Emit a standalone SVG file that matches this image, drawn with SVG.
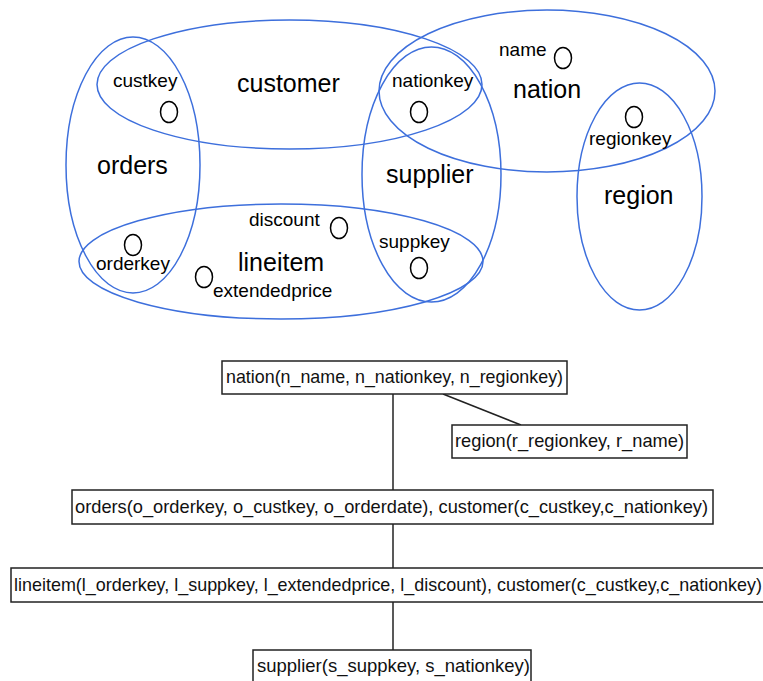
<svg xmlns="http://www.w3.org/2000/svg" width="763" height="681" viewBox="0 0 763 681">
  <style>
    .edge { fill: none; stroke: #3d6fdc; stroke-width: 1.5; }
    .attr { fill: none; stroke: #000; stroke-width: 1.5; }
    .big { font-family: "Liberation Sans", Arial, sans-serif; font-size: 25px; fill: #000; }
    .small { font-family: "Liberation Sans", Arial, sans-serif; font-size: 19px; fill: #000; }
    .box { fill: #fff; stroke: #222; stroke-width: 1.5; }
    .boxtext { font-family: "Liberation Sans", Arial, sans-serif; font-size: 17.8px; fill: #111; }
    .link { fill: none; stroke: #222; stroke-width: 1.5; }
  </style>

  <rect width="763" height="681" fill="#fff"/>

  <!-- Hypergraph: one ellipse per relation -->
  <g id="customer">
    <ellipse class="edge" cx="289.5" cy="84.5" rx="192.5" ry="64.5"/>
    <text class="big" x="237" y="92">customer</text>
  </g>
  <g id="orders">
    <ellipse class="edge" cx="133" cy="165" rx="67" ry="128"/>
    <text class="big" x="97" y="174">orders</text>
  </g>
  <g id="lineitem">
    <ellipse class="edge" cx="281" cy="261.5" rx="202" ry="57.5"/>
    <text class="big" x="238" y="271">lineitem</text>
  </g>
  <g id="supplier">
    <ellipse class="edge" cx="431.5" cy="174.5" rx="69.5" ry="127.5"/>
    <text class="big" x="386" y="183">supplier</text>
  </g>
  <g id="nation">
    <ellipse class="edge" cx="547" cy="91" rx="168" ry="81"/>
    <text class="big" x="513" y="98">nation</text>
  </g>
  <g id="region">
    <ellipse class="edge" cx="639.5" cy="196.5" rx="62.5" ry="113.5"/>
    <text class="big" x="604" y="204">region</text>
  </g>

  <!-- Attribute vertices -->
  <g id="custkey">
    <ellipse class="attr" cx="169" cy="112" rx="8.5" ry="10.5"/>
    <text class="small" x="113" y="87">custkey</text>
  </g>
  <g id="nationkey">
    <ellipse class="attr" cx="419" cy="112" rx="8.5" ry="10.5"/>
    <text class="small" x="392" y="87">nationkey</text>
  </g>
  <g id="name">
    <ellipse class="attr" cx="563" cy="58" rx="8.5" ry="10.5"/>
    <text class="small" x="499" y="56">name</text>
  </g>
  <g id="regionkey">
    <ellipse class="attr" cx="634" cy="117" rx="8.5" ry="10.5"/>
    <text class="small" x="589" y="145">regionkey</text>
  </g>
  <g id="discount">
    <ellipse class="attr" cx="339" cy="228" rx="8.5" ry="10.5"/>
    <text class="small" x="249" y="226">discount</text>
  </g>
  <g id="suppkey">
    <ellipse class="attr" cx="419" cy="268" rx="8.5" ry="10.5"/>
    <text class="small" x="379" y="248">suppkey</text>
  </g>
  <g id="orderkey">
    <ellipse class="attr" cx="133" cy="245" rx="8.5" ry="10.5"/>
    <text class="small" x="96" y="270">orderkey</text>
  </g>
  <g id="extendedprice">
    <ellipse class="attr" cx="204" cy="277" rx="8.5" ry="10.5"/>
    <text class="small" x="213" y="297">extendedprice</text>
  </g>

  <!-- Join tree connectors -->
  <g id="connectors">
    <line class="link" x1="393" y1="394" x2="393" y2="490"/>
    <line class="link" x1="443" y1="394" x2="521" y2="425"/>
    <line class="link" x1="393" y1="524" x2="393" y2="568"/>
    <line class="link" x1="393" y1="602" x2="393" y2="650"/>
  </g>

  <!-- Join tree nodes -->
  <g id="t-nation">
    <rect class="box" x="222" y="361" width="345" height="33"/>
    <text class="boxtext" x="226" y="383" textLength="337" lengthAdjust="spacingAndGlyphs">nation(n_name, n_nationkey, n_regionkey)</text>
  </g>
  <g id="t-region">
    <rect class="box" x="452" y="425" width="235" height="33"/>
    <text class="boxtext" x="455" y="447" textLength="229" lengthAdjust="spacingAndGlyphs">region(r_regionkey, r_name)</text>
  </g>
  <g id="t-orders-customer">
    <rect class="box" x="72" y="490" width="641" height="34"/>
    <text class="boxtext" x="75" y="513" textLength="633" lengthAdjust="spacingAndGlyphs">orders(o_orderkey, o_custkey, o_orderdate), customer(c_custkey,c_nationkey)</text>
  </g>
  <g id="t-lineitem-customer">
    <rect class="box" x="11" y="568" width="760" height="34"/>
    <text class="boxtext" x="14" y="591" textLength="748" lengthAdjust="spacingAndGlyphs">lineitem(l_orderkey, l_suppkey, l_extendedprice, l_discount), customer(c_custkey,c_nationkey)</text>
  </g>
  <g id="t-supplier">
    <rect class="box" x="253" y="650" width="278" height="34"/>
    <text class="boxtext" x="257" y="672" textLength="273" lengthAdjust="spacingAndGlyphs">supplier(s_suppkey, s_nationkey)</text>
  </g>
</svg>
